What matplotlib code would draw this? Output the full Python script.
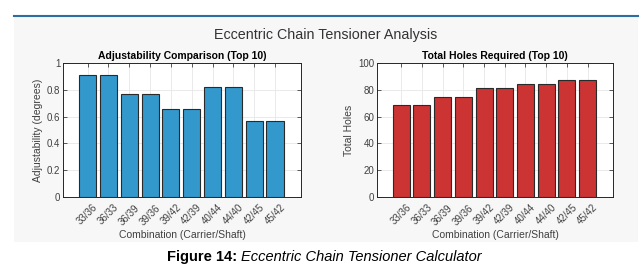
import matplotlib
matplotlib.use("Agg")
from matplotlib import pyplot as plt
from matplotlib.patches import Rectangle
from matplotlib.lines import Line2D
from matplotlib.transforms import ScaledTranslation

plt.rcParams['font.family'] = ['Liberation Sans', 'DejaVu Sans']

combos = ["33/36", "36/33", "36/39", "39/36", "39/42", "42/39", "40/44", "44/40", "42/45", "45/42"]
adjustability = [0.91, 0.91, 0.77, 0.77, 0.66, 0.66, 0.82, 0.82, 0.57, 0.57]
total_holes = [69, 69, 75, 75, 81, 81, 84, 84, 87, 87]

W, H = 641, 277
fig = plt.figure(figsize=(W / 100, H / 100), dpi=100)

# light panel + blue top rule
fig.patches.append(Rectangle((14 / W, 1 - 242 / H), 624 / W, 226 / H,
                             transform=fig.transFigure, facecolor="#f7f7f7",
                             edgecolor="none", zorder=-10))
fig.lines.append(Line2D([14 / W, 638 / W], [1 - 15.5 / H, 1 - 15.5 / H],
                        transform=fig.transFigure, color="#2e6da4", lw=1.5, zorder=-5))

fig.text(326 / W, 1 - 35 / H, "Eccentric Chain Tensioner Analysis", ha="center", va="center",
         fontsize=10.3, color="#333333")

tick_col = "#404040"

def draw(ax, vals, color, title, ylabel, ylim, yticks):
    x = list(range(len(vals)))
    ax.bar(x, vals, width=0.82, color=color, edgecolor="#2a2a2a", linewidth=0.8, zorder=3)
    ax.set_facecolor("white")
    ax.set_xlim(-1.18, 10.25)
    ax.set_ylim(*ylim)
    ax.set_yticks(yticks)
    ax.set_xticks(x)
    ax.set_xticklabels(combos, rotation=45, ha="right", rotation_mode="anchor")
    ax.grid(True, color="#e6e6e6", lw=0.6, zorder=0)
    ax.set_axisbelow(True)
    ax.tick_params(direction="in", top=True, right=True, length=3, width=0.6,
                   labelsize=7, colors=tick_col, pad=2)
    ax.tick_params(axis="x", pad=4)
    # shift rotated tick labels a little to the right, like the original
    off = ScaledTranslation(5 / 100, 0, fig.dpi_scale_trans)
    for lab in ax.get_xticklabels():
        lab.set_transform(lab.get_transform() + off)
    for s in ax.spines.values():
        s.set_color("#262626")
        s.set_linewidth(0.7)
    ax.set_title(title, fontsize=7.5, fontweight="bold", pad=3)
    ax.set_xlabel("Combination (Carrier/Shaft)", fontsize=7.5, color=tick_col, labelpad=2)
    ax.set_ylabel(ylabel, fontsize=7.5, color=tick_col, labelpad=3)

ax1 = fig.add_axes([63 / W, 1 - 197 / H, 238 / W, 134 / H])
draw(ax1, adjustability, (0.2, 0.6, 0.8), "Adjustability Comparison (Top 10)",
     "Adjustability (degrees)", (0, 1), [0, 0.2, 0.4, 0.6, 0.8, 1])
ax1.set_yticklabels(["0", "0.2", "0.4", "0.6", "0.8", "1"])

ax2 = fig.add_axes([377 / W, 1 - 197 / H, 236 / W, 134 / H])
draw(ax2, total_holes, (0.8, 0.2, 0.2), "Total Holes Required (Top 10)",
     "Total Holes", (0, 100), [0, 20, 40, 60, 80, 100])
ax2.set_xlim(-1.17, 10.23)

# caption: bold lead-in followed by italic text
cap_y = 1 - 257 / H
t1 = fig.text(167 / W, cap_y, "Figure 14:", fontsize=10.5, fontweight="bold", va="center")
fig.canvas.draw()
bb = t1.get_window_extent()
fig.text(bb.x1 / W + 4 / W, cap_y, "Eccentric Chain Tensioner Calculator", fontsize=10.5,
         style="italic", va="center")

fig.savefig("out.png", dpi=100)
